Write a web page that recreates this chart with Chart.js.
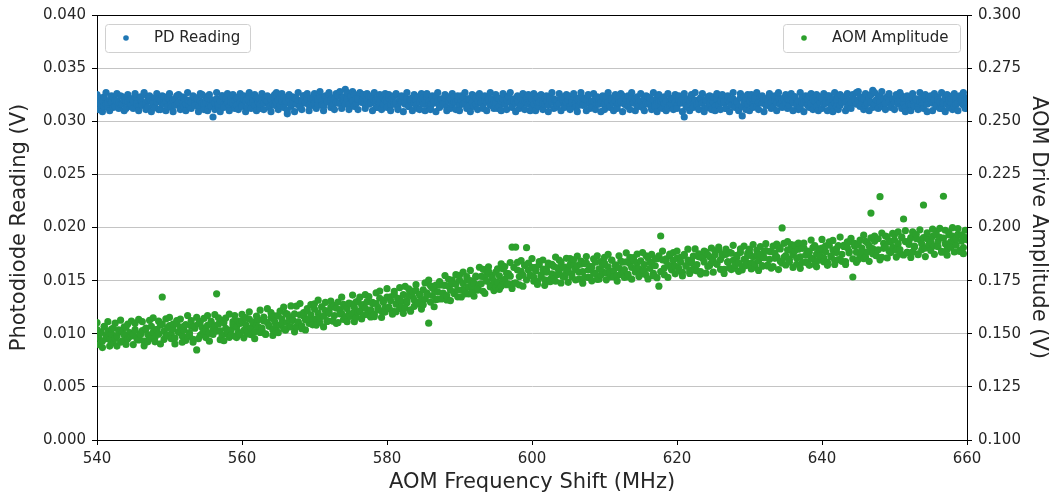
<!DOCTYPE html>
<html>
<head>
<meta charset="utf-8">
<script src="https://cdn.jsdelivr.net/npm/chart.js@4.4.0/dist/chart.umd.min.js"></script>
<style>
  html, body { margin:0; padding:0; background:#fff; }
  #wrap { width:1052px; height:497px; }
</style>
</head>
<body>
<div id="wrap"><canvas id="aomChart" width="1052" height="497"></canvas></div>
<script>
// sweep frequencies (MHz)
var freq = [
540,540.25,540.5,540.75,541,541.25,541.5,541.75,542,542.25,542.5,542.75,543,543.25,543.5,543.75,544,544.25,544.5,544.75,
545,545.25,545.5,545.75,546,546.25,546.5,546.75,547,547.25,547.5,547.75,548,548.25,548.5,548.75,549,549.25,549.5,549.75,
550,550.25,550.5,550.75,551,551.25,551.5,551.75,552,552.25,552.5,552.75,553,553.25,553.5,553.75,554,554.25,554.5,554.75,
555,555.25,555.5,555.75,556,556.25,556.5,556.75,557,557.25,557.5,557.75,558,558.25,558.5,558.75,559,559.25,559.5,559.75,
560,560.25,560.5,560.75,561,561.25,561.5,561.75,562,562.25,562.5,562.75,563,563.25,563.5,563.75,564,564.25,564.5,564.75,
565,565.25,565.5,565.75,566,566.25,566.5,566.75,567,567.25,567.5,567.75,568,568.25,568.5,568.75,569,569.25,569.5,569.75,
570,570.25,570.5,570.75,571,571.25,571.5,571.75,572,572.25,572.5,572.75,573,573.25,573.5,573.75,574,574.25,574.5,574.75,
575,575.25,575.5,575.75,576,576.25,576.5,576.75,577,577.25,577.5,577.75,578,578.25,578.5,578.75,579,579.25,579.5,579.75,
580,580.25,580.5,580.75,581,581.25,581.5,581.75,582,582.25,582.5,582.75,583,583.25,583.5,583.75,584,584.25,584.5,584.75,
585,585.25,585.5,585.75,586,586.25,586.5,586.75,587,587.25,587.5,587.75,588,588.25,588.5,588.75,589,589.25,589.5,589.75,
590,590.25,590.5,590.75,591,591.25,591.5,591.75,592,592.25,592.5,592.75,593,593.25,593.5,593.75,594,594.25,594.5,594.75,
595,595.25,595.5,595.75,596,596.25,596.5,596.75,597,597.25,597.5,597.75,598,598.25,598.5,598.75,599,599.25,599.5,599.75,
600,600.25,600.5,600.75,601,601.25,601.5,601.75,602,602.25,602.5,602.75,603,603.25,603.5,603.75,604,604.25,604.5,604.75,
605,605.25,605.5,605.75,606,606.25,606.5,606.75,607,607.25,607.5,607.75,608,608.25,608.5,608.75,609,609.25,609.5,609.75,
610,610.25,610.5,610.75,611,611.25,611.5,611.75,612,612.25,612.5,612.75,613,613.25,613.5,613.75,614,614.25,614.5,614.75,
615,615.25,615.5,615.75,616,616.25,616.5,616.75,617,617.25,617.5,617.75,618,618.25,618.5,618.75,619,619.25,619.5,619.75,
620,620.25,620.5,620.75,621,621.25,621.5,621.75,622,622.25,622.5,622.75,623,623.25,623.5,623.75,624,624.25,624.5,624.75,
625,625.25,625.5,625.75,626,626.25,626.5,626.75,627,627.25,627.5,627.75,628,628.25,628.5,628.75,629,629.25,629.5,629.75,
630,630.25,630.5,630.75,631,631.25,631.5,631.75,632,632.25,632.5,632.75,633,633.25,633.5,633.75,634,634.25,634.5,634.75,
635,635.25,635.5,635.75,636,636.25,636.5,636.75,637,637.25,637.5,637.75,638,638.25,638.5,638.75,639,639.25,639.5,639.75,
640,640.25,640.5,640.75,641,641.25,641.5,641.75,642,642.25,642.5,642.75,643,643.25,643.5,643.75,644,644.25,644.5,644.75,
645,645.25,645.5,645.75,646,646.25,646.5,646.75,647,647.25,647.5,647.75,648,648.25,648.5,648.75,649,649.25,649.5,649.75,
650,650.25,650.5,650.75,651,651.25,651.5,651.75,652,652.25,652.5,652.75,653,653.25,653.5,653.75,654,654.25,654.5,654.75,
655,655.25,655.5,655.75,656,656.25,656.5,656.75,657,657.25,657.5,657.75,658,658.25,658.5,658.75,659,659.25,659.5,659.75,
660
];

// photodiode reading (V), left axis -- two readings per frequency
var pdReading = [
.0318,.0321,.0315,.0319,.0323,.0316,.0313,.0320,.0318,.0322,.0314,.0319,.0317,.0324,.0316,.0320,.0312,.0318,.0321,.0315,
.0319,.0323,.0316,.0314,.0320,.0318,.0325,.0317,.0313,.0321,.0319,.0315,.0322,.0318,.0311,.0320,.0316,.0323,.0319,.0314,
.0321,.0317,.0320,.0315,.0324,.0318,.0312,.0319,.0322,.0316,.0320,.0314,.0318,.0323,.0317,.0321,.0313,.0319,.0325,.0316,
.0318,.0322,.0315,.0320,.0304,.0317,.0321,.0313,.0319,.0324,.0316,.0320,.0318,.0314,.0322,.0317,.0320,.0315,.0323,.0318,
.0316,.0321,.0319,.0313,.0324,.0317,.0320,.0315,.0322,.0318,.0312,.0320,.0317,.0323,.0319,.0314,.0321,.0316,.0325,.0318,
.0320,.0315,.0319,.0323,.0317,.0307,.0321,.0314,.0318,.0322,.0316,.0320,.0313,.0319,.0324,.0317,.0321,.0315,.0319,.0322,
.0317,.0321,.0316,.0323,.0319,.0314,.0322,.0318,.0325,.0320,.0315,.0321,.0318,.0324,.0317,.0322,.0319,.0330,.0321,.0316,
.0323,.0319,.0325,.0317,.0321,.0326,.0318,.0322,.0315,.0320,.0324,.0317,.0321,.0319,.0313,.0322,.0318,.0323,.0316,.0320,
.0318,.0322,.0315,.0319,.0324,.0317,.0313,.0320,.0318,.0323,.0316,.0321,.0314,.0319,.0322,.0317,.0320,.0312,.0318,.0321,
.0316,.0320,.0323,.0318,.0314,.0321,.0317,.0324,.0319,.0315,.0320,.0318,.0322,.0313,.0319,.0321,.0316,.0323,.0318,.0320,
.0315,.0319,.0322,.0317,.0321,.0314,.0320,.0318,.0324,.0316,.0319,.0323,.0317,.0312,.0320,.0318,.0322,.0315,.0321,.0319,
.0317,.0322,.0314,.0319,.0321,.0316,.0320,.0324,.0318,.0313,.0321,.0317,.0319,.0323,.0315,.0320,.0318,.0322,.0316,.0319,
.0321,.0316,.0324,.0318,.0314,.0320,.0317,.0322,.0319,.0315,.0323,.0318,.0321,.0313,.0319,.0317,.0322,.0320,.0315,.0318,
.0320,.0314,.0319,.0323,.0317,.0321,.0315,.0318,.0322,.0316,.0320,.0324,.0317,.0313,.0319,.0321,.0316,.0320,.0318,.0323,
.0316,.0320,.0318,.0313,.0322,.0317,.0319,.0315,.0321,.0318,.0324,.0316,.0320,.0314,.0319,.0322,.0317,.0321,.0315,.0318,
.0319,.0315,.0321,.0317,.0323,.0318,.0313,.0320,.0316,.0322,.0318,.0314,.0321,.0317,.0319,.0312,.0320,.0316,.0322,.0318,
.0315,.0320,.0317,.0321,.0304,.0318,.0313,.0319,.0322,.0316,.0320,.0314,.0318,.0321,.0317,.0312,.0319,.0323,.0316,.0320,
.0318,.0314,.0321,.0316,.0319,.0323,.0317,.0312,.0320,.0318,.0315,.0321,.0317,.0319,.0313,.0322,.0305,.0318,.0320,.0316,
.0319,.0322,.0316,.0320,.0314,.0318,.0323,.0317,.0321,.0315,.0319,.0324,.0318,.0313,.0320,.0317,.0322,.0316,.0319,.0321,
.0317,.0321,.0315,.0320,.0318,.0323,.0316,.0319,.0313,.0322,.0318,.0320,.0315,.0324,.0317,.0321,.0319,.0314,.0320,.0318,
.0322,.0316,.0319,.0324,.0318,.0314,.0321,.0317,.0320,.0323,.0315,.0319,.0322,.0318,.0313,.0320,.0317,.0325,.0319,.0316,
.0320,.0323,.0317,.0321,.0315,.0319,.0322,.0318,.0329,.0316,.0320,.0324,.0318,.0314,.0321,.0317,.0323,.0319,.0315,.0320,
.0318,.0322,.0316,.0320,.0324,.0317,.0313,.0321,.0319,.0315,.0322,.0318,.0320,.0314,.0319,.0323,.0317,.0321,.0316,.0319,
.0321,.0317,.0320,.0315,.0323,.0318,.0312,.0319,.0322,.0316,.0320,.0318,.0324,.0314,.0321,.0317,.0319,.0322,.0315,.0320,
.0318
];
var pdReading2 = [
.0325,.0311,.0322,.0309,.0314,.0327,.0318,.0310,.0324,.0313,.0320,.0326,.0312,.0316,.0323,.0310,.0319,.0325,.0314,.0321,
.0312,.0326,.0317,.0310,.0323,.0315,.0327,.0311,.0320,.0324,.0309,.0318,.0313,.0326,.0321,.0311,.0324,.0316,.0310,.0322,
.0326,.0313,.0309,.0321,.0316,.0325,.0311,.0323,.0314,.0310,.0327,.0319,.0312,.0324,.0315,.0322,.0309,.0326,.0317,.0311,
.0323,.0310,.0325,.0314,.0320,.0311,.0327,.0316,.0309,.0324,.0313,.0321,.0326,.0310,.0318,.0325,.0312,.0322,.0311,.0326,
.0314,.0324,.0309,.0321,.0327,.0312,.0318,.0325,.0310,.0322,.0316,.0326,.0311,.0320,.0324,.0313,.0309,.0323,.0315,.0327,
.0311,.0322,.0326,.0313,.0319,.0310,.0325,.0316,.0323,.0309,.0321,.0327,.0314,.0311,.0324,.0318,.0326,.0310,.0322,.0315,
.0326,.0312,.0321,.0328,.0315,.0310,.0324,.0319,.0327,.0313,.0322,.0311,.0326,.0317,.0328,.0312,.0323,.0316,.0327,.0311,
.0324,.0328,.0314,.0321,.0311,.0327,.0318,.0325,.0312,.0326,.0316,.0323,.0310,.0327,.0320,.0313,.0325,.0311,.0322,.0326,
.0313,.0325,.0310,.0322,.0316,.0326,.0311,.0320,.0324,.0309,.0318,.0327,.0314,.0321,.0310,.0325,.0315,.0323,.0311,.0326,
.0322,.0310,.0326,.0315,.0311,.0324,.0319,.0309,.0327,.0313,.0321,.0316,.0325,.0310,.0323,.0312,.0326,.0318,.0311,.0324,
.0310,.0324,.0316,.0327,.0312,.0321,.0309,.0325,.0314,.0322,.0311,.0326,.0318,.0313,.0324,.0310,.0320,.0327,.0315,.0312,
.0325,.0312,.0321,.0310,.0326,.0316,.0311,.0323,.0327,.0314,.0319,.0309,.0324,.0312,.0322,.0326,.0311,.0317,.0325,.0310,
.0313,.0326,.0310,.0322,.0318,.0325,.0311,.0316,.0324,.0309,.0321,.0327,.0312,.0320,.0315,.0326,.0310,.0323,.0313,.0325,
.0324,.0311,.0318,.0326,.0313,.0309,.0322,.0327,.0315,.0321,.0310,.0325,.0312,.0319,.0326,.0311,.0323,.0316,.0309,.0324,
.0311,.0323,.0327,.0314,.0320,.0310,.0325,.0312,.0317,.0326,.0309,.0322,.0315,.0324,.0311,.0327,.0318,.0310,.0323,.0314,
.0326,.0313,.0310,.0324,.0316,.0322,.0311,.0327,.0314,.0309,.0325,.0319,.0312,.0323,.0310,.0326,.0315,.0321,.0311,.0325,
.0312,.0324,.0318,.0309,.0326,.0314,.0321,.0310,.0325,.0313,.0327,.0316,.0311,.0322,.0326,.0309,.0320,.0313,.0324,.0311,
.0323,.0310,.0326,.0315,.0311,.0325,.0319,.0312,.0324,.0309,.0321,.0327,.0313,.0318,.0310,.0326,.0314,.0323,.0311,.0325,
.0310,.0325,.0313,.0322,.0327,.0311,.0318,.0324,.0309,.0321,.0315,.0326,.0312,.0320,.0324,.0310,.0327,.0316,.0313,.0322,
.0325,.0312,.0320,.0326,.0310,.0323,.0315,.0311,.0327,.0317,.0309,.0324,.0321,.0313,.0326,.0311,.0319,.0325,.0310,.0323,
.0312,.0326,.0317,.0310,.0324,.0321,.0309,.0327,.0314,.0311,.0325,.0318,.0323,.0310,.0326,.0315,.0312,.0324,.0320,.0327,
.0328,.0314,.0322,.0311,.0326,.0317,.0310,.0325,.0313,.0327,.0320,.0312,.0324,.0328,.0315,.0311,.0323,.0326,.0313,.0321,
.0311,.0325,.0319,.0327,.0312,.0322,.0309,.0324,.0316,.0310,.0326,.0314,.0321,.0311,.0327,.0318,.0312,.0325,.0309,.0323,
.0324,.0310,.0326,.0314,.0320,.0312,.0327,.0317,.0309,.0325,.0313,.0322,.0311,.0326,.0316,.0310,.0324,.0319,.0327,.0312,
.0322
];

// AOM drive amplitude (V), right axis -- two readings per frequency
var aomAmplitude = [
.1519,.1482,.1505,.1466,.1532,.1492,.1511,.1473,.1501,.1527,.1479,.1488,.1518,.1461,.1509,.1495,.1530,.1476,.1506,.1490,
.1497,.1519,.1486,.1471,.1502,.1515,.1465,.1524,.1496,.1477,.1535,.1507,.1483,.1520,.1498,.1540,.1673,.1512,.1489,.1528,
.1538,.1499,.1522,.1480,.1548,.1508,.1531,.1490,.1517,.1543,.1486,.1505,.1535,.1474,.1526,.1424,.1547,.1493,.1529,.1510,
.1517,.1540,.1502,.1558,.1520,.1537,.1688,.1545,.1514,.1494,.1552,.1526,.1498,.1483,.1518,.1557,.1489,.1531,.1507,.1549,
.1560,.1516,.1543,.1499,.1569,.1528,.1552,.1509,.1538,.1566,.1506,.1527,.1560,.1497,.1553,.1536,.1576,.1519,.1558,.1534,
.1585,.1541,.1569,.1523,.1596,.1553,.1579,.1533,.1565,.1594,.1532,.1556,.1589,.1524,.1584,.1566,.1607,.1549,.1589,.1563,
.1616,.1570,.1598,.1553,.1627,.1583,.1609,.1562,.1595,.1625,.1561,.1586,.1620,.1553,.1614,.1596,.1638,.1579,.1619,.1593,
.1641,.1596,.1624,.1578,.1653,.1608,.1635,.1588,.1621,.1651,.1588,.1613,.1648,.1580,.1642,.1624,.1667,.1607,.1648,.1622,
.1672,.1625,.1655,.1607,.1685,.1639,.1667,.1619,.1653,.1684,.1620,.1646,.1682,.1613,.1676,.1659,.1703,.1641,.1684,.1658,
.1707,.1662,.1693,.1550,.1726,.1680,.1709,.1661,.1697,.1729,.1664,.1691,.1728,.1659,.1723,.1706,.1752,.1689,.1733,.1707,
.1752,.1705,.1736,.1687,.1769,.1721,.1750,.1701,.1738,.1771,.1705,.1733,.1770,.1700,.1765,.1747,.1794,.1730,.1774,.1748,
.1790,.1743,.1773,.1724,.1805,.1756,.1784,.1735,.1771,.1908,.1737,.1908,.1800,.1730,.1794,.1776,.1822,.1905,.1800,.1773,
.1812,.1765,.1795,.1746,.1826,.1777,.1804,.1754,.1790,.1822,.1756,.1782,.1817,.1747,.1810,.1791,.1837,.1771,.1814,.1787,
.1798,.1825,.1781,.1848,.1802,.1821,.1757,.1828,.1792,.1766,.1833,.1800,.1764,.1814,.1787,.1837,.1756,.1806,.1775,.1823,
.1832,.1786,.1815,.1767,.1846,.1796,.1824,.1774,.1810,.1842,.1776,.1802,.1838,.1768,.1831,.1812,.1858,.1791,.1834,.1807,
.1843,.1796,.1826,.1776,.1857,.1807,.1835,.1784,.1820,.1853,.1724,.1960,.1848,.1778,.1842,.1822,.1868,.1801,.1845,.1818,
.1855,.1808,.1837,.1789,.1869,.1819,.1847,.1797,.1834,.1866,.1799,.1826,.1862,.1792,.1856,.1838,.1884,.1817,.1862,.1834,
.1845,.1872,.1828,.1895,.1849,.1868,.1803,.1874,.1838,.1811,.1879,.1846,.1809,.1860,.1832,.1882,.1801,.1850,.1821,.1867,
.1880,.1833,.1862,.1813,.1894,.1844,.1872,.1821,.1858,.1891,.1823,.1850,.1886,.1816,.1880,.1862,.1908,.1841,.1998,.1859,
.1868,.1895,.1851,.1919,.1873,.1891,.1827,.1898,.1862,.1835,.1903,.1870,.1833,.1884,.1856,.1906,.1826,.1875,.1845,.1892,
.1903,.1856,.1886,.1837,.1917,.1867,.1895,.1845,.1882,.1915,.1847,.1874,.1911,.1840,.1905,.1887,.1934,.1767,.1912,.1884,
.1919,.1872,.1903,.1854,.1935,.1885,.1914,.2068,.1901,.1935,.1867,.1895,.2145,.1860,.1926,.1908,.1956,.1889,.1935,.1907,
.1941,.1894,.1924,.1875,.1956,.2040,.1934,.1883,.1920,.1953,.1885,.1912,.1948,.1876,.1942,.1924,.2106,.1903,.1947,.1920,
.1931,.1958,.1914,.1981,.1935,.1954,.1888,.2147,.1924,.1897,.1965,.1932,.1960,.1946,.1917,.1968,.1887,.1936,.1906,.1953,
.1942
];
var aomAmplitude2 = [
.1552,.1449,.1509,.1435,.1535,.1477,.1557,.1442,.1522,.1457,.1550,.1442,.1507,.1564,.1467,.1532,.1450,.1546,.1487,.1560,
.1449,.1549,.1477,.1568,.1495,.1557,.1443,.1527,.1462,.1563,.1487,.1575,.1462,.1520,.1559,.1452,.1545,.1474,.1570,.1494,
.1577,.1477,.1545,.1452,.1562,.1507,.1569,.1460,.1535,.1469,.1586,.1492,.1562,.1460,.1537,.1577,.1477,.1557,.1500,.1572,
.1482,.1585,.1465,.1549,.1497,.1590,.1512,.1575,.1472,.1562,.1467,.1574,.1512,.1592,.1492,.1542,.1586,.1482,.1560,.1497,
.1591,.1481,.1576,.1516,.1603,.1496,.1556,.1477,.1583,.1533,.1611,.1516,.1578,.1499,.1618,.1536,.1599,.1492,.1584,.1512,
.1505,.1607,.1549,.1625,.1517,.1592,.1532,.1631,.1562,.1509,.1630,.1554,.1642,.1537,.1600,.1518,.1618,.1570,.1637,.1542,
.1641,.1541,.1658,.1576,.1626,.1532,.1648,.1558,.1606,.1654,.1561,.1634,.1549,.1649,.1594,.1672,.1567,.1627,.1557,.1644,
.1582,.1682,.1557,.1650,.1600,.1672,.1570,.1637,.1684,.1592,.1675,.1579,.1642,.1592,.1692,.1612,.1701,.1577,.1657,.1602,
.1712,.1619,.1674,.1592,.1699,.1604,.1662,.1717,.1626,.1596,.1723,.1656,.1711,.1606,.1701,.1629,.1731,.1649,.1683,.1616,
.1636,.1739,.1681,.1753,.1649,.1716,.1627,.1729,.1663,.1746,.1666,.1729,.1774,.1679,.1756,.1656,.1736,.1696,.1778,.1674,
.1775,.1673,.1790,.1705,.1753,.1687,.1798,.1723,.1677,.1767,.1715,.1813,.1735,.1803,.1690,.1780,.1815,.1720,.1763,.1703,
.1721,.1806,.1709,.1829,.1749,.1816,.1731,.1783,.1835,.1713,.1812,.1739,.1836,.1769,.1844,.1724,.1822,.1754,.1832,.1776,
.1854,.1747,.1812,.1732,.1840,.1767,.1847,.1728,.1800,.1832,.1745,.1827,.1759,.1861,.1779,.1847,.1739,.1812,.1767,.1855,
.1742,.1854,.1767,.1820,.1754,.1865,.1790,.1842,.1738,.1830,.1863,.1765,.1817,.1749,.1852,.1782,.1867,.1757,.1839,.1792,
.1860,.1754,.1874,.1790,.1847,.1767,.1822,.1748,.1867,.1782,.1837,.1765,.1881,.1779,.1859,.1757,.1845,.1805,.1875,.1769,
.1780,.1882,.1797,.1867,.1758,.1837,.1874,.1772,.1852,.1764,.1867,.1792,.1889,.1809,.1852,.1765,.1875,.1819,.1882,.1782,
.1889,.1796,.1859,.1772,.1874,.1819,.1898,.1784,.1844,.1806,.1899,.1796,.1876,.1781,.1859,.1889,.1786,.1871,.1821,.1903,
.1790,.1890,.1828,.1908,.1803,.1876,.1784,.1898,.1838,.1883,.1802,.1916,.1824,.1869,.1794,.1899,.1816,.1912,.1839,.1879,
.1898,.1805,.1920,.1830,.1872,.1798,.1910,.1818,.1885,.1924,.1819,.1887,.1809,.1912,.1855,.1922,.1802,.1899,.1832,.1925,
.1824,.1934,.1837,.1892,.1812,.1917,.1857,.1927,.1808,.1902,.1927,.1837,.1889,.1822,.1941,.1852,.1915,.1815,.1899,.1867,
.1944,.1839,.1914,.1822,.1932,.1864,.1939,.1826,.1899,.1849,.1955,.1841,.1916,.1826,.1933,.1881,.1949,.1853,.1926,.1836,
.1849,.1941,.1883,.1964,.1861,.1929,.1841,.1951,.1876,.1959,.1867,.1947,.1848,.1974,.1902,.1960,.1857,.1934,.1882,.1972,
.1966,.1861,.1979,.1896,.1951,.1871,.1985,.1883,.1936,.1859,.1979,.1907,.1967,.1872,.1989,.1895,.1952,.1863,.1975,.1917,
.1892,.1992,.1874,.1967,.1910,.1996,.1884,.1950,.1987,.1870,.1979,.1907,.1999,.1885,.1947,.1995,.1892,.1965,.1877,.1987,
.1950
];

var seriesNames = ['PD Reading', 'AOM Amplitude'];
var xTitle = 'AOM Frequency Shift (MHz)';
var yTitle = 'Photodiode Reading (V)';
var y2Title = 'AOM Drive Amplitude (V)';

var FONT = 'DejaVu Sans';
var TXT = '#262626';

function pts(a, b){
  var out = [];
  for (var i=0;i<freq.length;i++){
    out.push({ x:freq[i], y:a[i] });
    out.push({ x:freq[i], y:b[i] });
  }
  return out;
}

// matplotlib-ish frame (top spine) + two separate legend boxes
var framePlugin = {
  id:'frame',
  afterDraw:function(chart){
    var c = chart.ctx, a = chart.chartArea;
    c.save();
    c.strokeStyle = '#000'; c.lineWidth = 1;
    c.beginPath();
    c.moveTo(a.left, a.top+0.5); c.lineTo(a.right, a.top+0.5);
    c.stroke();

    var boxes = [
      { ds:0, x:105, y:24, w:145, h:28 },
      { ds:1, x:783, y:24, w:177, h:28 }
    ];
    c.font = '15px "' + FONT + '"';
    c.textBaseline = 'middle';
    boxes.forEach(function(b){
      var ds = chart.data.datasets[b.ds];
      c.fillStyle = 'rgba(255,255,255,0.85)';
      c.strokeStyle = '#d0d0d0';
      c.lineWidth = 1;
      c.beginPath();
      c.roundRect(b.x+0.5, b.y+0.5, b.w, b.h, 3);
      c.fill(); c.stroke();
      c.fillStyle = ds.backgroundColor;
      c.beginPath(); c.arc(b.x+21, b.y+14, 2.8, 0, Math.PI*2); c.fill();
      c.fillStyle = TXT;
      c.fillText(ds.label, b.x+49, b.y+14);
    });
    c.restore();
  }
};

new Chart(document.getElementById('aomChart').getContext('2d'), {
  type:'scatter',
  data:{
    datasets:[
      { label:seriesNames[0], data:pts(pdReading, pdReading2), yAxisID:'y',
        backgroundColor:'#1f77b4', borderWidth:0, pointRadius:3.6, clip:0 },
      { label:seriesNames[1], data:pts(aomAmplitude, aomAmplitude2), yAxisID:'y2',
        backgroundColor:'#2ca02c', borderWidth:0, pointRadius:3.6, clip:0 }
    ]
  },
  options:{
    responsive:false,
    animation:false,
    events:[],
    layout:{ padding:{ left:0, right:0, top:15, bottom:0 } },
    plugins:{ legend:{ display:false }, tooltip:{ enabled:false } },
    scales:{
      x:{
        type:'linear', min:540, max:660,
        afterFit:function(s){ s.height = 57; },
        border:{ color:'#000', width:1 },
        grid:{ drawOnChartArea:false, drawTicks:true, tickLength:5, tickColor:'#000' },
        ticks:{ stepSize:20, padding:5, color:TXT, font:{ family:FONT, size:15 } },
        title:{ display:true, text:xTitle, color:TXT, font:{ family:FONT, size:21 }, padding:{ top:0, bottom:2 } }
      },
      y:{
        position:'left', min:0, max:0.04,
        afterFit:function(s){ s.width = 97; },
        border:{ color:'#000', width:1 },
        grid:{ color:'#c4c4c4', lineWidth:1, tickLength:5, tickColor:'#000' },
        ticks:{ stepSize:0.005, padding:6, color:TXT, font:{ family:FONT, size:15 },
                callback:function(v){ return v.toFixed(3); } },
        title:{ display:true, text:yTitle, color:TXT, font:{ family:FONT, size:21 }, padding:{ top:7, bottom:0 } }
      },
      y2:{
        position:'right', min:0.1, max:0.3,
        afterFit:function(s){ s.width = 85; },
        border:{ color:'#000', width:1 },
        grid:{ drawOnChartArea:false, tickLength:5, tickColor:'#000' },
        ticks:{ stepSize:0.025, padding:6, color:TXT, font:{ family:FONT, size:15 },
                callback:function(v){ return v.toFixed(3); } },
        title:{ display:true, text:y2Title, color:TXT, font:{ family:FONT, size:21 }, padding:{ top:1, bottom:0 } }
      }
    }
  },
  plugins:[framePlugin]
});
</script>
</body>
</html>
